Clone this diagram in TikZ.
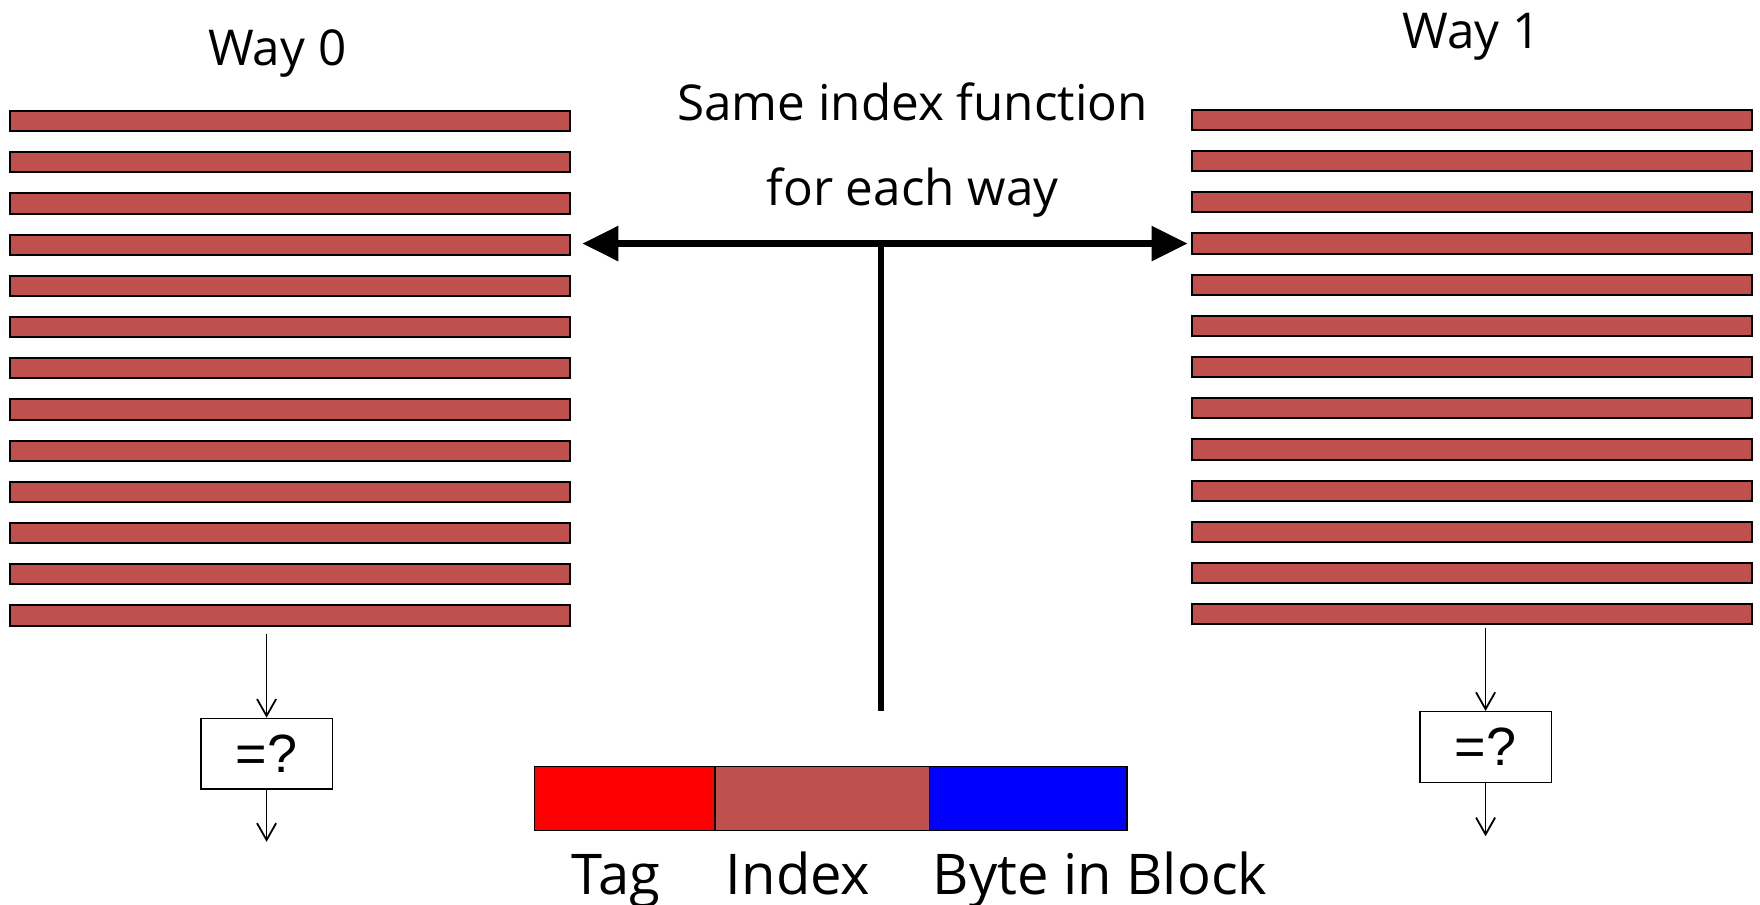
\documentclass[tikz,border=0pt]{standalone}
\usepackage{fontspec}
\setmainfont{Open Sans}
\newfontfamily\arialfont{Liberation Sans}
\usepackage{tikz}
\usetikzlibrary{arrows.meta, positioning}

\definecolor{linered}{HTML}{C0504D}

\tikzset{
	waybar/.style = {draw, line width = 0.9pt, fill = linered, minimum width = 249.5pt, minimum height = 9pt, inner sep = 0pt, anchor = north west},
	cmpbox/.style = {draw, line width = 0.6pt, minimum width = 58.5pt, minimum height = 31.5pt, inner sep = 0pt, font = \arialfont\fontsize{24}{28}\selectfont},
	field/.style = {draw, line width = 0.7pt, minimum height = 28.5pt, inner sep = 0pt, outer sep = 0pt},
	biglabel/.style = {anchor = base, inner sep = 0pt, font = \fontsize{22}{26}\selectfont},
	fieldlabel/.style = {anchor = base, inner sep = 0pt, font = \fontsize{25}{30}\selectfont},
	thinarrow/.style = {line width = 0.8pt, -{Straight Barb[length = 7.5pt, width = 8.5pt]}}
}

\begin{document}
\begin{tikzpicture}[x = 0.5pt, y = -0.5pt]
							\useasboundingbox (0,0) rectangle (1568,806);
				
							\foreach \i in {0,...,12}
							{
								\node [waybar] (w0-\i) at (8, {98 + 36.7*\i}) {};
								\node [waybar] (w1-\i) at (1061, {97 + 36.7*\i}) {};
							}
				
							\node [biglabel] (way0) at (247, 58) {Way 0};
							\node [biglabel] (way1) at (1311, 43) {Way 1};
				
							\node [biglabel] (same) at (813, 107) {Same index function};
							\node [biglabel] (each) at (813, 183) {for each way};
				
							\coordinate (stem) at (785, 633);
							\draw [line width = 3pt, {Triangle[length = 16pt, width = 15pt]}-{Triangle[length = 16pt, width = 15pt]}, shorten < = 5pt, shorten > = 1.5pt] (w0-3.east |- w1-3.west) -- (w1-3.west);
							\draw [line width = 2.6pt] (stem) -- (stem |- w1-3.west);
				
							\node [cmpbox] (cmp0) at (237.5, 671.5) {=?};
							\node [cmpbox] (cmp1) at (1323.5, 665.5) {=?};
				
							\coordinate (out0) at (237.5, 750);
							\coordinate (out1) at (1323.5, 745);
				
							\begin{scope}[thinarrow]
								\draw [shorten < = 3.5pt] (cmp0.north |- w0-12.south) -- (cmp0.north);
								\draw (cmp0.south) -- (out0);
								\draw [shorten < = 1pt] (cmp1.north |- w1-12.south) -- (cmp1.north);
								\draw (cmp1.south) -- (out1);
							\end{scope}
				
							\node [field, fill = red, minimum width = 80.5pt, anchor = north west] (tag) at (476, 683) {};
							\node [field, fill = linered, minimum width = 95.5pt, right = 0pt of tag] (index) {};
							\node [field, fill = blue, minimum width = 88pt, right = 0pt of index] (byte) {};
				
							\node [fieldlabel] (taglabel) at (549, 797) {Tag};
							\node [fieldlabel] (indexlabel) at (711, 797) {Index};
							\node [fieldlabel] (bytelabel) at (980, 797) {Byte in Block};
						\end{tikzpicture}
\end{document}
